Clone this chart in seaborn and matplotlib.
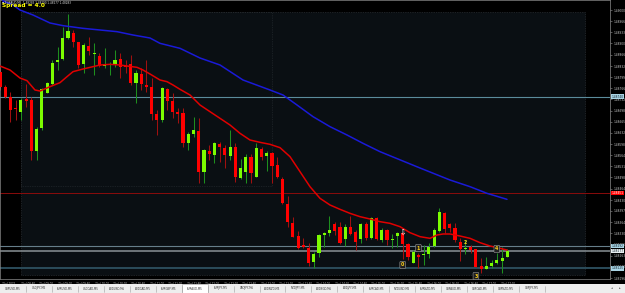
import matplotlib
matplotlib.use("Agg")
import matplotlib.pyplot as plt
from matplotlib.patches import Rectangle
from matplotlib.lines import Line2D
import numpy as np
import pandas as pd
import seaborn as sns

# ---------------- data ----------------
title_text = "\u25bc EURAUD,M5  1.48283 1.48290 1.48277 1.48283"
spread_text = "Spread = 4.0"

opens = [1.48815,1.48770,1.48738,1.48704,1.48695,1.48733,1.48730,1.48578,1.48645,1.48752,
         1.48777,1.48843,1.48852,1.48915,1.48930,1.48903,1.48837,1.48892,1.48868,1.48862,
         1.48832,1.48834,1.48838,1.48852,1.48832,1.48838,1.48782,1.48808,1.48775,1.48768,
         1.48688,1.48670,1.48762,1.48728,1.48693,1.48690,1.48600,1.48628,1.48637,1.48515,
         1.48577,1.48565,1.48598,1.48585,1.48563,1.48588,1.48497,1.48515,1.48560,1.48500,
         1.48582,1.48563,1.48570,1.48535,1.48493,1.48418,1.48362,1.48322,1.48295,1.48287,
         1.48245,1.48270,1.48325,1.48330,1.48357,1.48350,1.48312,1.48350,1.48335,1.48312,
         1.48358,1.48315,1.48377,1.48310,1.48340,1.48311,1.48323,1.48330,1.48298,1.48242,
         1.48265,1.48266,1.48268,1.48292,1.48338,1.48392,1.48358,1.48347,1.48303,1.48284,
         1.48288,1.48282,1.48232,1.48224,1.48232,1.48240,1.48248,1.48260]
highs = [1.48826,1.48775,1.48755,1.48730,1.48735,1.48778,1.48739,1.48650,1.48765,1.48785,
         1.48850,1.48890,1.48950,1.48988,1.48940,1.48905,1.48900,1.48920,1.48902,1.48870,
         1.48885,1.48845,1.48880,1.48870,1.48850,1.48865,1.48820,1.48825,1.48850,1.48795,
         1.48700,1.48770,1.48765,1.48750,1.48705,1.48705,1.48635,1.48680,1.48676,1.48583,
         1.48595,1.48605,1.48605,1.48595,1.48640,1.48601,1.48553,1.48568,1.48568,1.48602,
         1.48590,1.48577,1.48575,1.48559,1.48500,1.48442,1.48380,1.48338,1.48316,1.48301,
         1.48275,1.48328,1.48335,1.48382,1.48365,1.48365,1.48358,1.48382,1.48340,1.48362,
         1.48364,1.48379,1.48380,1.48345,1.48342,1.48328,1.48335,1.48335,1.48300,1.48281,
         1.48272,1.48295,1.48300,1.48345,1.48405,1.48395,1.48362,1.48362,1.48315,1.48310,
         1.48295,1.48284,1.48255,1.48258,1.48250,1.48272,1.48290,1.48282]
lows = [1.48760,1.48735,1.48665,1.48670,1.48670,1.48710,1.48550,1.48550,1.48640,1.48750,
        1.48775,1.48820,1.48850,1.48913,1.48890,1.48825,1.48810,1.48865,1.48805,1.48830,
        1.48825,1.48805,1.48830,1.48795,1.48810,1.48775,1.48720,1.48760,1.48755,1.48670,
        1.48625,1.48665,1.48700,1.48675,1.48660,1.48590,1.48580,1.48620,1.48481,1.48481,
        1.48550,1.48542,1.48545,1.48526,1.48550,1.48485,1.48493,1.48481,1.48481,1.48499,
        1.48550,1.48518,1.48482,1.48496,1.48418,1.48350,1.48318,1.48282,1.48286,1.48232,
        1.48225,1.48258,1.48290,1.48322,1.48325,1.48298,1.48292,1.48325,1.48280,1.48300,
        1.48310,1.48312,1.48310,1.48305,1.48295,1.48285,1.48290,1.48253,1.48250,1.48240,
        1.48226,1.48235,1.48255,1.48290,1.48335,1.48330,1.48335,1.48305,1.48248,1.48268,
        1.48272,1.48228,1.48211,1.48222,1.48225,1.48238,1.48212,1.48258]
closes = [1.48770,1.48740,1.48700,1.48702,1.48730,1.48728,1.48578,1.48643,1.48762,1.48780,
          1.48842,1.48850,1.48915,1.48938,1.48905,1.48835,1.48895,1.48878,1.48872,1.48832,
          1.48837,1.48838,1.48850,1.48830,1.48830,1.48782,1.48812,1.48777,1.48768,1.48688,
          1.48670,1.48765,1.48728,1.48695,1.48688,1.48602,1.48628,1.48640,1.48515,1.48580,
          1.48568,1.48600,1.48590,1.48565,1.48590,1.48498,1.48525,1.48560,1.48510,1.48585,
          1.48560,1.48571,1.48532,1.48498,1.48420,1.48365,1.48320,1.48285,1.48288,1.48242,
          1.48268,1.48325,1.48330,1.48340,1.48338,1.48300,1.48350,1.48328,1.48305,1.48358,
          1.48315,1.48375,1.48312,1.48340,1.48310,1.48313,1.48330,1.48297,1.48260,1.48275,
          1.48260,1.48268,1.48290,1.48340,1.48393,1.48343,1.48347,1.48310,1.48282,1.48287,
          1.48280,1.48230,1.48224,1.48232,1.48240,1.48250,1.48255,1.48278]

# fast (red) moving average, sampled (bar position, price)
ma_fast_pos = [0,1.91,3.82,5.16,6.69,7.65,9.56,11.47,12.81,13.96,15.87,17.78,19.12,21.03,22.94,
               24.28,26.2,27.34,28.68,30.59,31.93,33.08,34.42,36.33,38.24,40.15,42.07,43.98,45.89,
               47.8,49.71,51.63,53.54,55.45,57.36,59.27,61.19,63.1,65.01,66.92,68.83,70.75,72.66,
               74.57,76.48,78.39,80.31,82.22,83.56,84.7,86.04,87.95,89.87,91.78,93.69,95.6,96.94]
ma_fast_val = [1.48832,1.48820,1.48796,1.48788,1.48760,1.48757,1.48770,1.48782,1.48800,1.48815,
               1.48823,1.48830,1.48835,1.48837,1.48835,1.48832,1.48828,1.48820,1.48808,1.48790,
               1.48785,1.48775,1.48762,1.48745,1.48715,1.48695,1.48675,1.48655,1.48630,1.48610,
               1.48603,1.48597,1.48587,1.48560,1.48515,1.48470,1.48435,1.48415,1.48402,1.48390,
               1.48380,1.48373,1.48365,1.48360,1.48350,1.48332,1.48320,1.48315,1.48325,1.48328,
               1.48328,1.48322,1.48315,1.48302,1.48292,1.48285,1.48280]
# slow (blue) moving average
ma_slow_pos = [0.5,2.49,3.82,6.31,9.56,12.05,15.87,19.12,22.37,25.43,28.68,30.59,34.42,38.24,
               42.07,46.46,51.63,54.11,56.79,59.85,63.1,66.35,69.41,72.66,80.31,86.04,89.87,93.12,96.94]
ma_slow_val = [1.49028,1.49015,1.49000,1.48985,1.48961,1.48953,1.48945,1.48940,1.48935,1.48925,
               1.48916,1.48900,1.48885,1.48856,1.48835,1.48790,1.48760,1.48745,1.48715,1.48680,
               1.48650,1.48625,1.48600,1.48575,1.48526,1.48490,1.48470,1.48450,1.48432]

price_ticks = [1.49000,1.48966,1.48933,1.48900,1.48866,1.48832,1.48799,1.48766,1.48732,1.48698,
               1.48665,1.48632,1.48598,1.48564,1.48531,1.48498,1.48464,1.48430,1.48397,1.48364,
               1.48330,1.48296,1.48263,1.48230,1.48196]

# horizontal levels: (price, line colour, label bg, label fg, width)
levels = [(1.48740, "#5b8c9c", "#a9d4e4", "#10202a", 0.8),
          (1.48451, "#8a0c0c", "#ff0000", "#ffffff", 0.7),
          (1.48292, "#667e8a", "#a9d4e4", "#10202a", 0.8),
          (1.48277, "#8a9296", "#e8eef0", "#10202a", 1.1),
          (1.48225, "#2b4c5a", "#a9d4e4", "#10202a", 1.4)]

time_labels = ["7 Jul 2022"] + ["7 Jul %s" % t for t in
               ["08:40","09:00","09:20","09:40","10:00","10:20","10:40","11:00","11:20","11:40",
                "12:00","12:20","12:40","13:00","13:20","13:40","14:00","14:20","14:40","15:00",
                "15:20","15:40","16:00","16:20","16:40","17:00","17:20"]]

tab_names = ["GBPUSD,M5","USDJPY,M5","EURUSD,M5","USDCAD,M5","AUDUSD,M5","AUDCAD,M5",
             "EURGBP,M5","EURAUD,M5","EURJPY,M5","CADJPY,M5","AUDNZD,M5","NZDJPY,M5",
             "AUDSGD,M5","AUDJPY,M5","EURCAD,M5","NZDUSD,M5","EURNZD,M5","GBPAUD,M5",
             "GBPCAD,M5","GBPNZD,M5","GBPJPY,M5"]
active_tab = "EURAUD,M5"

# signal markers: (bar, price, text, boxed)
signals = [(77, 1.48235, "0", True), (80, 1.48286, "1", True), (89, 1.48304, "2", False),
           (91, 1.48202, "3", True), (95, 1.48283, "4", True)]
arrow_signal = (77, 1.48331)

# ---------------- drawing ----------------
W, H = 625, 293
PLOT_R, PLOT_B = 610, 279
BAR_PX = 5.23

sns.set_theme(style="dark")
plt.rcParams["font.family"] = ["DejaVu Sans"]

fig = plt.figure(figsize=(W / 100, H / 100), dpi=100, facecolor="black")
ax = fig.add_axes([0, 1 - PLOT_B / H, PLOT_R / W, PLOT_B / H])
ax.set_facecolor("black")

df = pd.DataFrame({"o": opens, "h": highs, "l": lows, "c": closes})
df["x"] = np.arange(len(df))
df["bull"] = df["c"] >= df["o"]

ax.set_xlim(0, PLOT_R / BAR_PX)
ax.set_ylim(1.48193, 1.49030)

# background panels
ax.add_patch(Rectangle((21 / PLOT_R, 1 - 275 / PLOT_B), (585 - 21) / PLOT_R, (275 - 12) / PLOT_B,
                       transform=ax.transAxes, facecolor="#0a0f13", edgecolor="#363c42",
                       linestyle=(0, (1, 1.5)), lw=0.5, zorder=0))
ax.add_patch(Rectangle((21 / PLOT_R, 1 - 186 / PLOT_B), (272 - 21) / PLOT_R, (186 - 12) / PLOT_B,
                       transform=ax.transAxes, facecolor="none", edgecolor="#2a3035",
                       linestyle=(0, (1, 1.5)), lw=0.5, zorder=0.5))

for price, lc, bg, fg, lw in levels:
    ax.axhline(price, color=lc, lw=lw, zorder=1)

# candles
bull = df[df["bull"]]
bear = df[~df["bull"]]
ax.vlines(bull["x"], bull["l"], bull["h"], color="#1e8f1e", lw=0.75, zorder=2)
ax.vlines(bear["x"], bear["l"], bear["h"], color="#a01010", lw=0.75, zorder=2)
min_h = 0.00003
ax.bar(bull["x"], np.maximum(bull["c"] - bull["o"], min_h), bottom=bull["o"], width=0.6,
       color="#7cfc00", linewidth=0, zorder=3)
ax.bar(bear["x"], np.maximum(bear["o"] - bear["c"], min_h), bottom=bear["c"], width=0.6,
       color="#ff0000", linewidth=0, zorder=3)

# moving averages
sns.lineplot(x=ma_fast_pos, y=ma_fast_val, ax=ax, color="#e00000", lw=1.1, zorder=4, sort=False)
sns.lineplot(x=ma_slow_pos, y=ma_slow_val, ax=ax, color="#1a1ad8", lw=1.1, zorder=4, sort=False)

# signals
for bx, py, txt, boxed in signals:
    kw = dict(color="#ffd21a", fontsize=3.4, ha="center", va="center", zorder=6, fontweight="bold")
    if boxed:
        kw["bbox"] = dict(boxstyle="round,pad=0.25", fc="#202020", ec="#9a9a9a", lw=0.4)
    ax.text(bx, py, txt, **kw)
ax.text(arrow_signal[0], arrow_signal[1], "\u21e9", color="white", fontsize=5.5,
        ha="center", va="center", zorder=6)

# right price axis
ax.yaxis.tick_right()
ax.set_yticks(price_ticks)
ax.set_yticklabels(["%.5f" % v for v in price_ticks])
ax.tick_params(axis="y", length=1.5, width=0.4, color="#9a9a9a", labelsize=2.1,
               labelcolor="#c8c8c8", pad=0.8)
for price, lc, bg, fg, lw in levels:
    ax.text(1.003, price, "%.5f" % price, transform=ax.get_yaxis_transform(), fontsize=2.1,
            color=fg, ha="left", va="center", zorder=7, clip_on=False,
            bbox=dict(boxstyle="square,pad=0.15", fc=bg, ec="none"))

# time axis
time_pos = 3.96 + 3.53 * np.arange(len(time_labels) - 1)
time_pos = np.concatenate([[0.3], time_pos])
ax.set_xticks(time_pos)
ax.set_xticklabels(time_labels)
ax.tick_params(axis="x", length=1.5, width=0.4, color="#9a9a9a", labelsize=1.9,
               labelcolor="#c8c8c8", pad=0.5)
for t in ax.get_xticklabels():
    t.set_ha("left")

ax.grid(False)
for side in ["left", "right", "top", "bottom"]:
    ax.spines[side].set_visible(True)
    ax.spines[side].set_color("#8a8a8a")
    ax.spines[side].set_linewidth(0.5)
ax.set_xlabel("")
ax.set_ylabel("")

# title / spread
fig.text(2 / W, 1 - 0.3 / H, title_text, color="#e0e0e0", fontsize=2.0, ha="left", va="top")
fig.text(2 / W, 1 - 3.2 / H, spread_text, color="#ffff00", fontsize=4.2, fontweight="bold",
         ha="left", va="top")

# tab strip
tab_top = 284
fig.add_artist(Rectangle((0, 0), 1, (H - tab_top) / H, transform=fig.transFigure,
                         facecolor="#eeeeee", edgecolor="none", zorder=1))
tab_w = 545 / len(tab_names)
for i, name in enumerate(tab_names):
    x0 = i * tab_w
    if name == active_tab:
        fig.add_artist(Rectangle((x0 / W, 0), tab_w / W, (H - tab_top + 0.5) / H,
                                 transform=fig.transFigure, facecolor="white",
                                 edgecolor="#9a9a9a", lw=0.4, zorder=2))
    fig.add_artist(Line2D([(x0 + tab_w) / W] * 2, [1 / H, (H - tab_top - 1.5) / H],
                          transform=fig.transFigure, color="#a0a0a0", lw=0.4, zorder=3))
    fig.text((x0 + tab_w / 2) / W, (H - tab_top) / (2 * H), name, fontsize=1.9,
             color="#303030", ha="center", va="center", zorder=4)
fig.text(612 / W, (H - tab_top) / (2 * H), "\u25c2", fontsize=2.5, color="#555555",
         ha="center", va="center", zorder=4)
fig.text(620 / W, (H - tab_top) / (2 * H), "\u25b8", fontsize=2.5, color="#555555",
         ha="center", va="center", zorder=4)

fig.savefig("out.png", dpi=100, facecolor="black")
